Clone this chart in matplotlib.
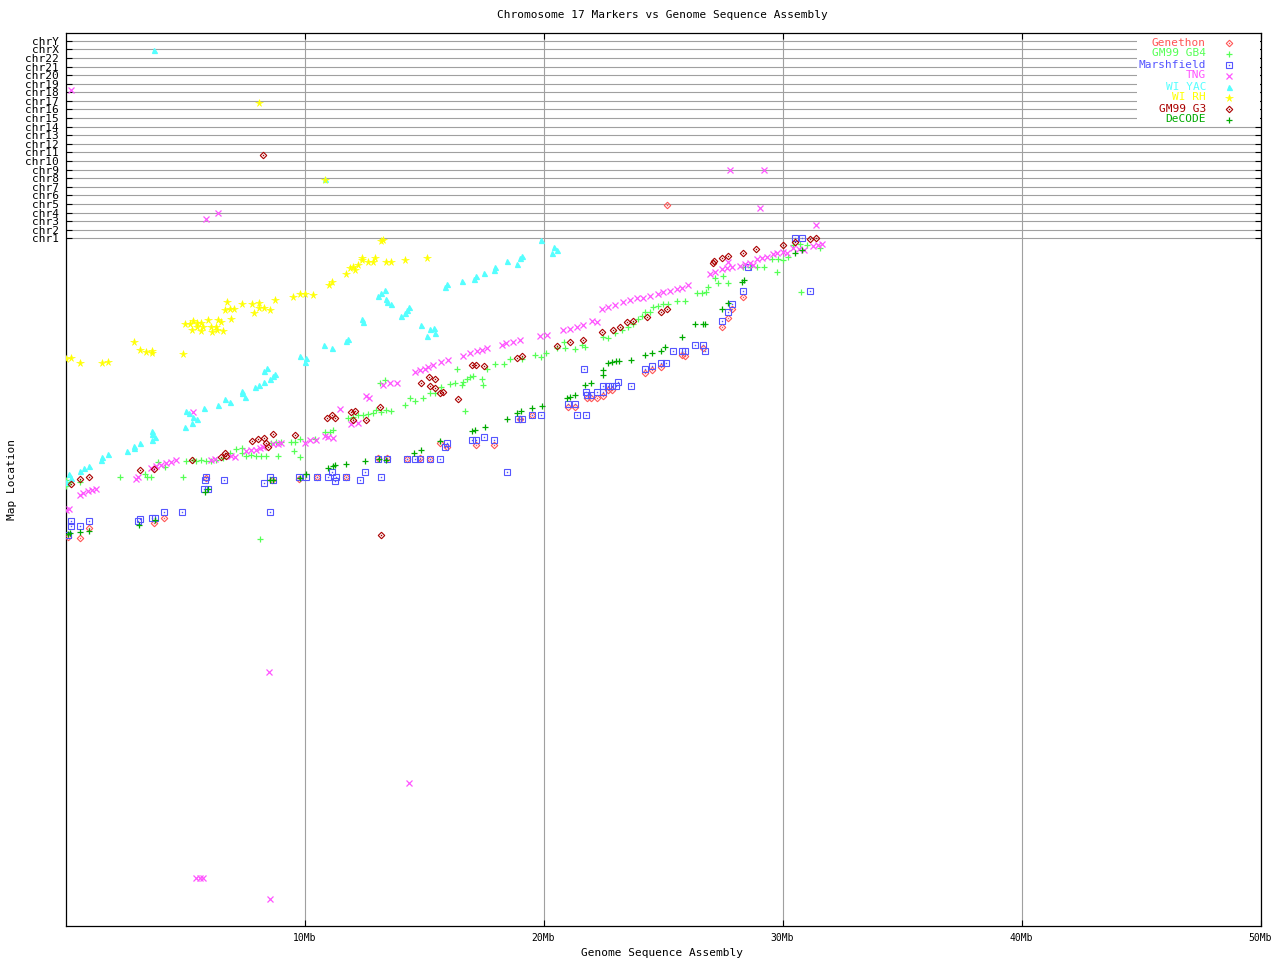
import matplotlib
matplotlib.use("Agg")
from matplotlib import pyplot as plt
from matplotlib.patches import Rectangle

# x: position on the sequence assembly (Mb), y: map location (plot units, 0 = bottom)
genethon_x = [0.10, 0.59, 0.98, 3.70, 4.12, 5.89, 8.64, 9.77, 10.52, 11.75, 13.08, 13.45, 14.29,
              14.82, 15.27, 15.69, 15.97, 17.16, 17.94, 19.01, 19.53, 21.03, 21.31, 21.80, 21.97,
              22.22, 22.47, 22.71, 22.85, 24.26, 24.53, 24.92, 25.78, 25.93, 26.69, 27.48, 27.73,
              27.90, 28.35, 25.17]
genethon_y = [389, 388, 398, 403, 408, 448, 446, 447, 449, 449, 468, 468, 467,
              468, 467, 483, 479, 481, 481, 507, 511, 519, 519, 528, 528,
              528, 530, 536, 536, 553, 556, 559, 571, 570, 578, 599, 608,
              617, 629, 721]

gb4_x = [0.00, 0.00, 0.17, 0.62, 2.26, 3.31, 3.40, 3.59, 3.87, 4.15, 4.91, 5.05, 5.33, 5.47, 5.68,
         5.89, 6.10, 6.31, 6.59, 6.87, 7.12, 7.40, 7.40, 7.57, 7.78, 7.99, 8.20, 8.38, 8.89, 8.61,
         8.82, 9.03, 9.45, 9.59, 9.80, 9.56, 9.83, 8.12, 10.43, 10.85, 11.06, 11.19, 11.82, 12.03,
         12.24, 12.45, 12.66, 12.87, 13.01, 13.22, 13.43, 13.64, 13.15, 13.36, 14.20, 14.41, 14.61,
         14.96, 15.24, 15.45, 15.73, 16.08, 16.29, 16.39, 16.57, 16.64, 16.78, 16.92, 17.06, 17.41,
         17.47, 16.71, 17.62, 17.99, 18.34, 18.59, 19.08, 19.64, 19.88, 20.10, 20.55, 20.90, 20.85,
         21.31, 21.60, 21.73, 22.50, 22.71, 22.99, 23.27, 23.55, 23.73, 23.97, 24.11, 24.25, 24.46,
         24.59, 24.80, 25.01, 25.22, 25.60, 25.92, 26.44, 26.62, 26.80, 26.90, 27.18, 27.32, 27.53,
         27.73, 28.36, 28.64, 28.92, 29.23, 29.79, 29.55, 29.83, 30.04, 30.25, 30.46, 30.74, 31.02,
         31.57, 30.77]
gb4_y = [446, 440, 444, 444, 449, 452, 449, 449, 464, 459, 449, 465, 466, 465, 466,
         465, 465, 466, 468, 473, 477, 478, 473, 470, 471, 470, 470, 470, 470, 483,
         484, 484, 484, 484, 487, 475, 469, 387, 487, 494, 494, 496, 508, 509,
         511, 511, 512, 513, 516, 514, 516, 515, 543, 546, 521, 528, 525,
         528, 533, 533, 539, 542, 543, 557, 541, 544, 547, 549, 550, 547,
         541, 515, 557, 562, 562, 567, 567, 571, 569, 573, 578, 578, 584,
         577, 581, 579, 589, 588, 593, 596, 599, 602, 607, 610, 614, 614,
         619, 620, 622, 622, 625, 625, 633, 633, 634, 639, 648, 643, 650,
         643, 659, 659, 659, 659, 654, 667, 667, 666, 669, 681, 682, 681,
         678, 634]

marshfield_x = [0.10, 0.22, 0.22, 0.60, 0.98, 3.02, 3.10, 3.63, 3.76, 4.12, 4.87, 5.78, 5.98, 5.83,
                5.89, 6.63, 8.30, 8.55, 8.68, 8.55, 9.77, 10.08, 10.52, 10.98, 11.15, 11.31, 11.26,
                11.75, 12.31, 12.53, 13.19, 13.08, 13.45, 14.29, 14.61, 14.82, 15.27, 15.66, 15.88,
                15.97, 16.99, 17.16, 17.52, 17.94, 18.48, 18.94, 19.08, 19.53, 19.90, 21.03, 21.31,
                21.39, 21.76, 21.70, 21.80, 21.97, 21.79, 22.22, 22.47, 22.50, 22.71, 22.85, 23.02,
                23.13, 23.67, 24.26, 24.53, 24.92, 25.11, 25.43, 25.78, 25.93, 26.35, 26.69, 26.77,
                27.48, 27.73, 27.90, 28.35, 28.55, 30.54, 30.81, 31.13]
marshfield_y = [391, 405, 400, 400, 405, 405, 407, 408, 408, 414, 414, 437, 437, 446,
                449, 446, 443, 449, 446, 414, 449, 449, 449, 449, 454, 449, 445,
                449, 446, 454, 449, 467, 467, 467, 467, 467, 467, 467, 479,
                483, 486, 486, 489, 486, 454, 507, 507, 511, 511, 522, 522,
                511, 511, 557, 531, 531, 534, 534, 534, 540, 540, 540, 540,
                544, 540, 557, 560, 563, 563, 575, 575, 575, 581, 581, 575,
                605, 614, 622, 635, 659, 688, 688, 635]

tng_x = [0.03, 0.14, 0.59, 0.75, 0.93, 1.12, 1.29, 2.93, 3.03, 3.59, 3.80, 4.01, 4.22, 4.43, 4.64,
         5.33, 6.10, 6.24, 6.94, 7.08, 7.57, 7.78, 7.99, 8.12, 8.26, 8.68, 8.89, 9.03, 10.01, 10.22,
         10.50, 10.85, 10.98, 11.19, 11.47, 11.96, 12.24, 12.59, 12.70, 13.29, 13.57, 13.85, 14.61,
         14.82, 15.03, 15.17, 15.38, 15.73, 16.01, 16.64, 16.92, 17.20, 17.41, 17.62, 18.25, 18.45,
         18.73, 19.01, 19.85, 20.13, 20.82, 21.11, 21.39, 21.66, 22.01, 22.22, 22.43, 22.71, 22.99,
         23.34, 23.62, 23.90, 24.17, 24.46, 24.80, 25.01, 25.29, 25.57, 25.78, 26.06, 26.97, 27.18,
         27.46, 27.67, 27.88, 27.73, 28.22, 28.43, 28.64, 28.78, 28.92, 29.13, 29.34, 29.62, 29.76,
         30.04, 30.18, 30.46, 30.67, 30.88, 31.29, 31.50, 31.65,
         8.51, 5.47, 5.61, 5.75, 8.56, 14.38,
         0.21, 5.89, 6.38, 27.81, 29.23, 29.06, 31.41]
tng_y = [416, 417, 431, 433, 435, 436, 437, 447, 449, 458, 460, 461, 463, 464, 466,
         514, 466, 467, 470, 469, 475, 476, 476, 478, 479, 482, 482, 483, 483, 486,
         486, 490, 489, 488, 517, 502, 503, 530, 528, 541, 543, 543, 554,
         556, 557, 559, 561, 564, 566, 570, 573, 575, 576, 578, 581, 583,
         584, 586, 590, 591, 596, 597, 599, 601, 605, 604, 617, 619, 621,
         624, 626, 628, 628, 630, 632, 634, 635, 637, 638, 641, 652, 654,
         657, 658, 659, 664, 660, 662, 663, 661, 667, 668, 669, 672, 673,
         674, 673, 678, 677, 676, 680, 681, 682,
         254, 48, 48, 48, 27, 143,
         836, 707, 713, 756, 756, 718, 701]

yac_x = [0.01, 0.14, 0.24, 0.60, 0.78, 0.98, 1.48, 1.52, 1.77, 2.57, 2.85, 2.85, 3.11, 3.60, 3.63,
         3.76, 3.61, 5.00, 5.03, 5.18, 5.29, 5.32, 5.50, 5.79, 6.38, 6.67, 6.88, 7.37, 7.40, 7.53,
         7.91, 8.09, 8.30, 8.32, 8.43, 8.57, 8.68, 8.76, 9.80, 10.05, 10.04, 10.80, 11.15, 11.75,
         11.84, 12.41, 12.45, 13.08, 13.22, 13.37, 13.41, 13.45, 13.61, 14.04, 14.21, 14.29, 14.39,
         14.88, 15.12, 15.26, 15.42, 15.46, 15.88, 15.97, 16.60, 17.10, 17.16, 17.52, 17.94, 17.99,
         18.48, 18.90, 19.01, 19.08, 19.90, 20.44, 20.55, 20.35,
         3.70, 10.85]
yac_y = [444, 452, 448, 455, 458, 460, 466, 469, 472, 475, 480, 478, 483, 495, 492,
         489, 486, 499, 515, 513, 503, 509, 507, 518, 521, 527, 524, 535, 533, 529,
         539, 541, 544, 555, 558, 547, 550, 552, 570, 568, 564, 581, 578, 585,
         587, 607, 604, 630, 633, 636, 627, 624, 622, 610, 613, 616, 619,
         601, 590, 597, 598, 593, 639, 642, 645, 647, 650, 653, 656, 659,
         665, 662, 668, 670, 686, 679, 676, 673,
         876, 747]

rh_x = [0.02, 0.21, 0.60, 1.51, 1.77, 2.86, 3.10, 3.35, 3.60, 3.62, 4.91, 5.00, 5.19, 5.33, 5.28,
        5.49, 5.67, 5.75, 5.50, 5.67, 5.96, 6.11, 6.10, 6.31, 6.35, 6.59, 6.39, 6.50, 6.92, 6.75,
        6.67, 6.87, 7.06, 7.38, 7.79, 7.89, 8.09, 8.09, 8.32, 8.56, 8.76, 9.52, 9.80, 10.01, 10.36,
        11.01, 11.13, 11.75, 11.89, 12.03, 12.10, 12.24, 12.42, 12.42, 12.66, 12.87, 12.94, 13.40,
        13.60, 14.21, 15.12, 13.22, 13.29,
        8.09, 10.85]
rh_y = [567, 568, 563, 563, 564, 584, 576, 574, 573, 575, 572, 602, 602, 605, 596,
        599, 595, 599, 603, 603, 606, 594, 599, 599, 596, 595, 606, 604, 607, 624,
        616, 617, 617, 622, 622, 613, 623, 618, 618, 616, 626, 629, 632, 632, 631,
        641, 644, 652, 658, 659, 656, 661, 666, 668, 664, 664, 668, 664,
        664, 666, 668, 685, 686,
        823, 746]

g3_x = [0.24, 0.59, 0.98, 3.13, 3.70, 5.29, 6.52, 6.66, 6.73, 7.80, 8.07, 8.30, 8.38, 8.47, 8.68,
        9.60, 10.94, 11.15, 11.26, 11.96, 12.10, 12.03, 12.59, 13.15, 14.88, 15.21, 15.46, 15.27,
        15.45, 15.69, 15.80, 16.43, 16.99, 17.16, 17.52, 18.90, 19.08, 20.57, 21.12, 21.66, 22.46,
        22.89, 23.20, 23.51, 23.73, 24.32, 24.92, 25.18, 27.08, 27.14, 27.48, 27.73, 28.36, 28.91,
        30.04, 30.53, 31.13, 31.41, 13.19, 8.26]
g3_y = [442, 447, 449, 456, 457, 466, 469, 473, 470, 485, 487, 488, 483, 479, 492,
        491, 508, 511, 508, 514, 515, 506, 506, 519, 543, 549, 547, 540,
        538, 533, 534, 527, 561, 561, 560, 568, 570, 580, 584, 586, 594,
        596, 599, 604, 605, 609, 614, 617, 663, 665, 668, 670, 673, 677,
        681, 684, 687, 688, 391, 771]

decode_x = [0.10, 0.17, 0.59, 0.98, 3.06, 3.76, 5.83, 5.96, 8.57, 8.68, 9.80, 10.05, 10.98, 11.19,
            11.29, 11.75, 12.55, 13.11, 13.43, 14.59, 14.87, 15.66, 17.01, 17.13, 17.56, 18.48,
            18.90, 19.05, 19.53, 19.92, 20.99, 21.11, 21.31, 21.73, 21.97, 22.47, 22.50, 22.71,
            22.85, 23.03, 23.14, 23.67, 24.26, 24.53, 24.92, 25.10, 25.81, 26.35, 26.69, 26.77,
            27.48, 27.73, 28.32, 28.39, 30.54, 30.81]
decode_y = [392, 393, 394, 395, 401, 406, 434, 437, 446, 446, 448, 452, 458, 460,
            461, 462, 465, 467, 466, 473, 476, 485, 495, 496, 499, 507,
            513, 515, 518, 520, 528, 529, 531, 541, 543, 551, 556, 563,
            564, 565, 565, 566, 571, 573, 575, 579, 589, 602, 602, 602,
            617, 623, 644, 646, 673, 676]

chrom_labels = ['chr1', 'chr2', 'chr3', 'chr4', 'chr5', 'chr6', 'chr7', 'chr8', 'chr9', 'chr10',
                'chr11', 'chr12', 'chr13', 'chr14', 'chr15', 'chr16', 'chr17', 'chr18', 'chr19',
                'chr20', 'chr21', 'chr22', 'chrX', 'chrY']
x_ticks = [10, 20, 30, 40, 50]
x_tick_labels = ['10Mb', '20Mb', '30Mb', '40Mb', '50Mb']

CHR_BASE = 687.7
CHR_STEP = 8.587
Y_MAX = 893.3
X_MAX = 50
FONT = 'DejaVu Sans Mono'

# name, x, y, colour, marker, size, dot in the middle
series = [
    ('Genethon', genethon_x, genethon_y, '#ff5555', 'D', 3.3, True),
    ('GM99 GB4', gb4_x, gb4_y, '#55ff55', '+', 5.0, False),
    ('Marshfield', marshfield_x, marshfield_y, '#5555ff', 's', 4.2, True),
    ('TNG', tng_x, tng_y, '#ff55ff', 'x', 3.8, False),
    ('WI YAC', yac_x, yac_y, '#55ffff', '^', 3.6, False),
    ('WI RH', rh_x, rh_y, '#ffff00', '*', 5.5, False),
    ('GM99 G3', g3_x, g3_y, '#aa0000', 'D', 3.3, True),
    ('DeCODE', decode_x, decode_y, '#00aa00', '+', 5.0, False),
]


def draw_marker(ax, x, y, color, marker, size, dotted, **kw):
    if marker in ('s', 'D'):
        ax.plot(x, y, ls='none', marker=marker, ms=size, mfc='none', mec=color, mew=0.8, **kw)
        if dotted:
            ax.plot(x, y, ls='none', marker='s', ms=1.0, mfc=color, mec=color, mew=0, **kw)
    elif marker == '*':
        ax.plot(x, y, ls='none', marker=marker, ms=size, mfc=color, mec=color, mew=0.4, **kw)
    else:
        ax.plot(x, y, ls='none', marker=marker, ms=size, color=color, mew=0.9, **kw)


fig = plt.figure(figsize=(12.8, 9.6), dpi=100)
ax = fig.add_axes([65.5 / 1280, 34 / 960, 1195 / 1280, 893.3 / 960])
ax.set_xlim(0, X_MAX)
ax.set_ylim(0, Y_MAX)

chrom_pos = [CHR_BASE + i * CHR_STEP for i in range(len(chrom_labels))]
ax.set_yticks(chrom_pos)
ax.set_yticklabels(chrom_labels, fontfamily=FONT, fontsize=8)
ax.set_xticks(x_ticks)
ax.set_xticklabels(x_tick_labels, fontfamily=FONT, fontsize=7)
ax.tick_params(direction='in', length=4, width=0.8, top=True, right=True, pad=5)
ax.set_axisbelow(True)
ax.grid(True, color='#a0a0a0', lw=0.8)
for s in ax.spines.values():
    s.set_linewidth(0.9)

for name, x, y, color, marker, size, dotted in series:
    draw_marker(ax, x, y, color, marker, size, dotted, zorder=3)

# legend (gnuplot style, top right, white box over the grid)
ax.add_patch(Rectangle((0.8967, 0.8978), 0.1025, 0.0985, transform=ax.transAxes,
                       facecolor='white', edgecolor='none', zorder=2))
for i, (name, x, y, color, marker, size, dotted) in enumerate(series):
    ty = (926 - (42.5 + 11 * i)) / Y_MAX
    ax.text((1206 - 65.5) / 1195, ty, name, transform=ax.transAxes, ha='right', va='center',
            color=color, fontfamily=FONT, fontsize=8, zorder=4)
    draw_marker(ax, [(1229 - 65.5) / 1195], [ty], color, marker, size, dotted,
                transform=ax.transAxes, clip_on=False, zorder=4)

fig.text(662 / 1280, 1 - 15 / 960, 'Chromosome 17 Markers vs Genome Sequence Assembly',
         ha='center', va='center', fontfamily=FONT, fontsize=8)
fig.text(662 / 1280, 1 - 953 / 960, 'Genome Sequence Assembly',
         ha='center', va='center', fontfamily=FONT, fontsize=8)
fig.text(12 / 1280, 1 - 480 / 960, 'Map Location', rotation=90,
         ha='center', va='center', fontfamily=FONT, fontsize=8)

fig.savefig('out.png', dpi=100, facecolor='white')
